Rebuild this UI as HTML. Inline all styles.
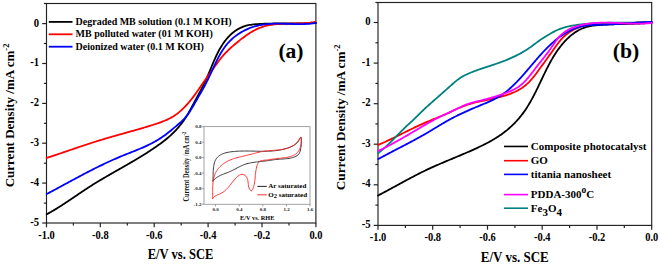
<!DOCTYPE html>
<html><head><meta charset="utf-8"><style>
html,body{margin:0;padding:0;background:#fff;}
body{width:660px;height:264px;overflow:hidden;font-family:"Liberation Serif",serif;}
svg{display:block;}
</style></head><body>
<svg width="660" height="264" viewBox="0 0 660 264">
<rect width="660" height="264" fill="#fff"/>
<rect x="46.5" y="3.5" width="269.4" height="219.5" fill="none" stroke="#222" stroke-width="1.15"/>
<line x1="46.5" y1="223.0" x2="46.5" y2="227.3" stroke="#222" stroke-width="1.2"/>
<line x1="73.4" y1="223.0" x2="73.4" y2="225.6" stroke="#222" stroke-width="1.2"/>
<line x1="100.3" y1="223.0" x2="100.3" y2="227.3" stroke="#222" stroke-width="1.2"/>
<line x1="127.3" y1="223.0" x2="127.3" y2="225.6" stroke="#222" stroke-width="1.2"/>
<line x1="154.2" y1="223.0" x2="154.2" y2="227.3" stroke="#222" stroke-width="1.2"/>
<line x1="181.2" y1="223.0" x2="181.2" y2="225.6" stroke="#222" stroke-width="1.2"/>
<line x1="208.1" y1="223.0" x2="208.1" y2="227.3" stroke="#222" stroke-width="1.2"/>
<line x1="235.1" y1="223.0" x2="235.1" y2="225.6" stroke="#222" stroke-width="1.2"/>
<line x1="262.0" y1="223.0" x2="262.0" y2="227.3" stroke="#222" stroke-width="1.2"/>
<line x1="289.0" y1="223.0" x2="289.0" y2="225.6" stroke="#222" stroke-width="1.2"/>
<line x1="315.9" y1="223.0" x2="315.9" y2="227.3" stroke="#222" stroke-width="1.2"/>
<line x1="43.9" y1="3.5" x2="46.5" y2="3.5" stroke="#222" stroke-width="1.2"/>
<line x1="42.2" y1="23.6" x2="46.5" y2="23.6" stroke="#222" stroke-width="1.2"/>
<line x1="43.9" y1="43.5" x2="46.5" y2="43.5" stroke="#222" stroke-width="1.2"/>
<line x1="42.2" y1="63.5" x2="46.5" y2="63.5" stroke="#222" stroke-width="1.2"/>
<line x1="43.9" y1="83.4" x2="46.5" y2="83.4" stroke="#222" stroke-width="1.2"/>
<line x1="42.2" y1="103.4" x2="46.5" y2="103.4" stroke="#222" stroke-width="1.2"/>
<line x1="43.9" y1="123.3" x2="46.5" y2="123.3" stroke="#222" stroke-width="1.2"/>
<line x1="42.2" y1="143.2" x2="46.5" y2="143.2" stroke="#222" stroke-width="1.2"/>
<line x1="43.9" y1="163.2" x2="46.5" y2="163.2" stroke="#222" stroke-width="1.2"/>
<line x1="42.2" y1="183.1" x2="46.5" y2="183.1" stroke="#222" stroke-width="1.2"/>
<line x1="43.9" y1="203.1" x2="46.5" y2="203.1" stroke="#222" stroke-width="1.2"/>
<line x1="42.2" y1="223.0" x2="46.5" y2="223.0" stroke="#222" stroke-width="1.2"/>
<text transform="translate(39.15,26.60) scale(0.970,1.060)" font-size="11.00" text-anchor="end" font-family="Liberation Serif" font-weight="bold">0</text>
<text transform="translate(39.15,66.48) scale(0.970,1.060)" font-size="11.00" text-anchor="end" font-family="Liberation Serif" font-weight="bold">-1</text>
<text transform="translate(39.15,106.36) scale(0.970,1.060)" font-size="11.00" text-anchor="end" font-family="Liberation Serif" font-weight="bold">-2</text>
<text transform="translate(39.15,146.24) scale(0.970,1.060)" font-size="11.00" text-anchor="end" font-family="Liberation Serif" font-weight="bold">-3</text>
<text transform="translate(39.15,186.12) scale(0.970,1.060)" font-size="11.00" text-anchor="end" font-family="Liberation Serif" font-weight="bold">-4</text>
<text transform="translate(39.15,226.00) scale(0.970,1.060)" font-size="11.00" text-anchor="end" font-family="Liberation Serif" font-weight="bold">-5</text>
<text transform="translate(46.45,238.70) scale(0.950,1.080)" font-size="11.00" text-anchor="middle" font-family="Liberation Serif" font-weight="bold">-1.0</text>
<text transform="translate(100.34,238.70) scale(0.950,1.080)" font-size="11.00" text-anchor="middle" font-family="Liberation Serif" font-weight="bold">-0.8</text>
<text transform="translate(154.23,238.70) scale(0.950,1.080)" font-size="11.00" text-anchor="middle" font-family="Liberation Serif" font-weight="bold">-0.6</text>
<text transform="translate(208.12,238.70) scale(0.950,1.080)" font-size="11.00" text-anchor="middle" font-family="Liberation Serif" font-weight="bold">-0.4</text>
<text transform="translate(262.01,238.70) scale(0.950,1.080)" font-size="11.00" text-anchor="middle" font-family="Liberation Serif" font-weight="bold">-0.2</text>
<text transform="translate(315.90,238.70) scale(0.950,1.080)" font-size="11.00" text-anchor="middle" font-family="Liberation Serif" font-weight="bold">0.0</text>
<rect x="378.0" y="2.5" width="273.7" height="222.9" fill="none" stroke="#222" stroke-width="1.15"/>
<line x1="378.0" y1="225.4" x2="378.0" y2="229.7" stroke="#222" stroke-width="1.2"/>
<line x1="405.4" y1="225.4" x2="405.4" y2="228.0" stroke="#222" stroke-width="1.2"/>
<line x1="432.7" y1="225.4" x2="432.7" y2="229.7" stroke="#222" stroke-width="1.2"/>
<line x1="460.1" y1="225.4" x2="460.1" y2="228.0" stroke="#222" stroke-width="1.2"/>
<line x1="487.5" y1="225.4" x2="487.5" y2="229.7" stroke="#222" stroke-width="1.2"/>
<line x1="514.9" y1="225.4" x2="514.9" y2="228.0" stroke="#222" stroke-width="1.2"/>
<line x1="542.2" y1="225.4" x2="542.2" y2="229.7" stroke="#222" stroke-width="1.2"/>
<line x1="569.6" y1="225.4" x2="569.6" y2="228.0" stroke="#222" stroke-width="1.2"/>
<line x1="597.0" y1="225.4" x2="597.0" y2="229.7" stroke="#222" stroke-width="1.2"/>
<line x1="624.3" y1="225.4" x2="624.3" y2="228.0" stroke="#222" stroke-width="1.2"/>
<line x1="651.7" y1="225.4" x2="651.7" y2="229.7" stroke="#222" stroke-width="1.2"/>
<line x1="375.4" y1="2.5" x2="378.0" y2="2.5" stroke="#222" stroke-width="1.2"/>
<line x1="373.7" y1="22.5" x2="378.0" y2="22.5" stroke="#222" stroke-width="1.2"/>
<line x1="375.4" y1="42.8" x2="378.0" y2="42.8" stroke="#222" stroke-width="1.2"/>
<line x1="373.7" y1="63.1" x2="378.0" y2="63.1" stroke="#222" stroke-width="1.2"/>
<line x1="375.4" y1="83.4" x2="378.0" y2="83.4" stroke="#222" stroke-width="1.2"/>
<line x1="373.7" y1="103.7" x2="378.0" y2="103.7" stroke="#222" stroke-width="1.2"/>
<line x1="375.4" y1="123.9" x2="378.0" y2="123.9" stroke="#222" stroke-width="1.2"/>
<line x1="373.7" y1="144.2" x2="378.0" y2="144.2" stroke="#222" stroke-width="1.2"/>
<line x1="375.4" y1="164.5" x2="378.0" y2="164.5" stroke="#222" stroke-width="1.2"/>
<line x1="373.7" y1="184.8" x2="378.0" y2="184.8" stroke="#222" stroke-width="1.2"/>
<line x1="375.4" y1="205.1" x2="378.0" y2="205.1" stroke="#222" stroke-width="1.2"/>
<line x1="373.7" y1="225.4" x2="378.0" y2="225.4" stroke="#222" stroke-width="1.2"/>
<text transform="translate(370.70,25.00) scale(0.970,1.060)" font-size="11.00" text-anchor="end" font-family="Liberation Serif" font-weight="bold">0</text>
<text transform="translate(370.70,65.58) scale(0.970,1.060)" font-size="11.00" text-anchor="end" font-family="Liberation Serif" font-weight="bold">-1</text>
<text transform="translate(370.70,106.16) scale(0.970,1.060)" font-size="11.00" text-anchor="end" font-family="Liberation Serif" font-weight="bold">-2</text>
<text transform="translate(370.70,146.74) scale(0.970,1.060)" font-size="11.00" text-anchor="end" font-family="Liberation Serif" font-weight="bold">-3</text>
<text transform="translate(370.70,187.32) scale(0.970,1.060)" font-size="11.00" text-anchor="end" font-family="Liberation Serif" font-weight="bold">-4</text>
<text transform="translate(370.70,227.90) scale(0.970,1.060)" font-size="11.00" text-anchor="end" font-family="Liberation Serif" font-weight="bold">-5</text>
<text transform="translate(378.00,240.95) scale(0.950,1.080)" font-size="11.00" text-anchor="middle" font-family="Liberation Serif" font-weight="bold">-1.0</text>
<text transform="translate(432.74,240.95) scale(0.950,1.080)" font-size="11.00" text-anchor="middle" font-family="Liberation Serif" font-weight="bold">-0.8</text>
<text transform="translate(487.48,240.95) scale(0.950,1.080)" font-size="11.00" text-anchor="middle" font-family="Liberation Serif" font-weight="bold">-0.6</text>
<text transform="translate(542.22,240.95) scale(0.950,1.080)" font-size="11.00" text-anchor="middle" font-family="Liberation Serif" font-weight="bold">-0.4</text>
<text transform="translate(596.96,240.95) scale(0.950,1.080)" font-size="11.00" text-anchor="middle" font-family="Liberation Serif" font-weight="bold">-0.2</text>
<text transform="translate(651.70,240.95) scale(0.950,1.080)" font-size="11.00" text-anchor="middle" font-family="Liberation Serif" font-weight="bold">0.0</text>
<rect x="204.0" y="126.6" width="106.0" height="77.7" fill="none" stroke="#999" stroke-width="0.9"/>
<line x1="202.0" y1="126.6" x2="204.0" y2="126.6" stroke="#888" stroke-width="0.8"/>
<text transform="translate(201.40,128.30)" font-size="5.00" text-anchor="end" fill="#222" font-family="Liberation Serif" font-weight="bold">0.8</text>
<line x1="202.0" y1="142.1" x2="204.0" y2="142.1" stroke="#888" stroke-width="0.8"/>
<text transform="translate(201.40,143.80)" font-size="5.00" text-anchor="end" fill="#222" font-family="Liberation Serif" font-weight="bold">0.4</text>
<line x1="202.0" y1="157.6" x2="204.0" y2="157.6" stroke="#888" stroke-width="0.8"/>
<text transform="translate(201.40,159.30)" font-size="5.00" text-anchor="end" fill="#222" font-family="Liberation Serif" font-weight="bold">0.0</text>
<line x1="202.0" y1="173.1" x2="204.0" y2="173.1" stroke="#888" stroke-width="0.8"/>
<text transform="translate(201.40,174.80)" font-size="5.00" text-anchor="end" fill="#222" font-family="Liberation Serif" font-weight="bold">-0.4</text>
<line x1="202.0" y1="188.6" x2="204.0" y2="188.6" stroke="#888" stroke-width="0.8"/>
<text transform="translate(201.40,190.30)" font-size="5.00" text-anchor="end" fill="#222" font-family="Liberation Serif" font-weight="bold">-0.8</text>
<line x1="202.0" y1="204.2" x2="204.0" y2="204.2" stroke="#888" stroke-width="0.8"/>
<text transform="translate(201.40,205.90)" font-size="5.00" text-anchor="end" fill="#222" font-family="Liberation Serif" font-weight="bold">-1.2</text>
<line x1="215.5" y1="204.3" x2="215.5" y2="206.3" stroke="#888" stroke-width="0.8"/>
<text transform="translate(215.50,210.70)" font-size="5.00" text-anchor="middle" fill="#222" font-family="Liberation Serif" font-weight="bold">0.0</text>
<line x1="239.3" y1="204.3" x2="239.3" y2="206.3" stroke="#888" stroke-width="0.8"/>
<text transform="translate(239.30,210.70)" font-size="5.00" text-anchor="middle" fill="#222" font-family="Liberation Serif" font-weight="bold">0.4</text>
<line x1="262.8" y1="204.3" x2="262.8" y2="206.3" stroke="#888" stroke-width="0.8"/>
<text transform="translate(262.80,210.70)" font-size="5.00" text-anchor="middle" fill="#222" font-family="Liberation Serif" font-weight="bold">0.8</text>
<line x1="286.5" y1="204.3" x2="286.5" y2="206.3" stroke="#888" stroke-width="0.8"/>
<text transform="translate(286.50,210.70)" font-size="5.00" text-anchor="middle" fill="#222" font-family="Liberation Serif" font-weight="bold">1.2</text>
<line x1="310.0" y1="204.3" x2="310.0" y2="206.3" stroke="#888" stroke-width="0.8"/>
<text transform="translate(310.00,210.70)" font-size="5.00" text-anchor="middle" fill="#222" font-family="Liberation Serif" font-weight="bold">1.6</text>
<path d="M212.94,181.03 L213.00,180.05 L213.03,178.99 L213.06,177.88 L213.08,176.72 L213.10,175.50 L213.12,174.26 L213.15,172.98 L213.20,171.68 L213.27,170.38 L213.37,169.07 L213.50,167.77 L213.66,166.48 L213.88,165.21 L214.14,163.98 L214.45,162.78 L214.83,161.64 L215.27,160.55 L215.79,159.52 L216.38,158.57 L217.05,157.70 L217.80,156.90 L218.62,156.18 L219.50,155.52 L220.44,154.92 L221.44,154.39 L222.48,153.91 L223.57,153.49 L224.70,153.11 L225.87,152.78 L227.06,152.49 L228.27,152.24 L229.51,152.02 L230.76,151.84 L232.02,151.68 L233.28,151.54 L234.54,151.43 L235.80,151.33 L237.05,151.24 L238.30,151.17 L239.55,151.12 L240.79,151.08 L242.03,151.04 L243.27,151.03 L244.50,151.02 L245.74,151.01 L246.96,151.02 L248.19,151.03 L249.41,151.05 L250.63,151.07 L251.84,151.10 L253.06,151.12 L254.27,151.15 L255.47,151.18 L256.68,151.21 L257.88,151.24 L259.08,151.26 L260.28,151.28 L261.48,151.29 L262.67,151.30 L263.86,151.30 L265.05,151.29 L266.24,151.27 L267.43,151.24 L268.61,151.20 L269.79,151.15 L270.98,151.08 L272.15,151.00 L273.33,150.90 L274.51,150.79 L275.68,150.66 L276.86,150.50 L278.03,150.33 L279.20,150.14 L280.37,149.93 L281.54,149.69 L282.71,149.43 L283.87,149.14 L285.04,148.82 L286.20,148.48 L287.37,148.11 L288.53,147.71 L289.69,147.28 L290.85,146.82 L292.00,146.31 L293.11,145.75 L294.20,145.13 L295.23,144.43 L296.22,143.66 L297.13,142.81 L297.97,141.85 L298.72,140.79 L299.37,139.64 L299.93,138.54 L300.39,137.68 L300.76,137.23 L301.04,137.36 L301.23,138.01 L301.35,139.05 L301.40,140.36 L301.39,141.81 L301.34,143.27 L301.24,144.70 L301.09,146.08 L300.92,147.41 L300.70,148.71 L300.45,149.96 L300.15,151.16 L299.77,152.29 L299.28,153.32 L298.66,154.25 L297.87,155.05 L296.95,155.74 L295.93,156.32 L294.84,156.81 L293.73,157.24 L292.59,157.60 L291.44,157.91 L290.26,158.16 L289.07,158.37 L287.87,158.54 L286.66,158.68 L285.44,158.80 L284.22,158.89 L282.99,158.98 L281.76,159.05 L280.53,159.12 L279.31,159.20 L278.09,159.30 L276.87,159.40 L275.67,159.53 L274.48,159.67 L273.28,159.83 L272.10,159.99 L270.91,160.17 L269.73,160.34 L268.55,160.52 L267.36,160.70 L266.18,160.87 L264.98,161.03 L263.79,161.19 L262.59,161.33 L261.38,161.47 L260.17,161.60 L258.96,161.73 L257.74,161.87 L256.53,162.01 L255.32,162.15 L254.11,162.31 L252.91,162.49 L251.71,162.69 L250.52,162.91 L249.34,163.15 L248.17,163.42 L247.01,163.73 L245.86,164.07 L244.73,164.45 L243.61,164.87 L242.50,165.33 L241.41,165.82 L240.32,166.33 L239.24,166.87 L238.16,167.42 L237.09,167.98 L236.01,168.55 L234.94,169.12 L233.86,169.68 L232.77,170.24 L231.68,170.78 L230.58,171.30 L229.46,171.79 L228.33,172.26 L227.20,172.71 L226.05,173.15 L224.91,173.58 L223.78,174.01 L222.65,174.45 L221.53,174.91 L220.44,175.40 L219.36,175.92 L218.32,176.49 L217.30,177.10 L216.32,177.77 L215.38,178.50 L214.49,179.31 L213.64,180.20 L212.85,181.17" fill="none" stroke="#222" stroke-width="0.90" stroke-linejoin="round" stroke-linecap="round"/>
<path d="M212.57,198.64 L212.61,197.51 L212.64,196.35 L212.66,195.18 L212.67,193.99 L212.67,192.78 L212.68,191.56 L212.68,190.33 L212.70,189.10 L212.72,187.86 L212.76,186.61 L212.81,185.37 L212.89,184.13 L213.00,182.90 L213.13,181.67 L213.30,180.45 L213.51,179.25 L213.76,178.06 L214.06,176.89 L214.40,175.74 L214.80,174.61 L215.26,173.51 L215.77,172.44 L216.35,171.39 L216.98,170.38 L217.67,169.40 L218.40,168.45 L219.18,167.54 L220.00,166.66 L220.87,165.82 L221.77,165.02 L222.70,164.26 L223.66,163.55 L224.66,162.87 L225.67,162.24 L226.71,161.65 L227.77,161.09 L228.86,160.58 L229.96,160.09 L231.07,159.64 L232.21,159.21 L233.35,158.81 L234.51,158.43 L235.68,158.07 L236.86,157.73 L238.05,157.41 L239.24,157.10 L240.43,156.81 L241.63,156.52 L242.83,156.24 L244.03,155.96 L245.23,155.69 L246.42,155.41 L247.60,155.13 L248.78,154.85 L249.96,154.56 L251.12,154.26 L252.27,153.95 L253.42,153.64 L254.56,153.33 L255.71,153.03 L256.85,152.73 L258.00,152.44 L259.14,152.16 L260.30,151.90 L261.46,151.66 L262.63,151.43 L263.81,151.24 L265.01,151.06 L266.21,150.92 L267.43,150.79 L268.66,150.68 L269.89,150.58 L271.12,150.49 L272.36,150.41 L273.60,150.32 L274.84,150.24 L276.08,150.15 L277.31,150.04 L278.54,149.93 L279.76,149.80 L280.98,149.64 L282.18,149.47 L283.37,149.26 L284.55,149.02 L285.71,148.75 L286.86,148.43 L287.98,148.07 L289.09,147.67 L290.17,147.21 L291.23,146.70 L292.27,146.13 L293.28,145.50 L294.26,144.80 L295.20,144.04 L296.12,143.20 L297.00,142.28 L297.85,141.28 L298.66,140.20 L299.42,139.08 L300.10,138.07 L300.65,137.36 L301.03,137.14 L301.23,137.48 L301.32,138.25 L301.36,139.30 L301.34,140.55 L301.26,141.94 L301.11,143.40 L300.89,144.87 L300.59,146.27 L300.21,147.57 L299.75,148.78 L299.21,149.90 L298.60,150.93 L297.93,151.87 L297.18,152.73 L296.37,153.51 L295.50,154.21 L294.56,154.83 L293.58,155.37 L292.54,155.85 L291.45,156.26 L290.32,156.62 L289.16,156.92 L287.96,157.19 L286.75,157.41 L285.51,157.60 L284.26,157.76 L283.00,157.90 L281.75,158.03 L280.49,158.16 L279.25,158.28 L278.01,158.41 L276.80,158.54 L275.61,158.70 L274.44,158.85 L273.27,159.02 L272.11,159.19 L270.95,159.37 L269.78,159.54 L268.61,159.71 L267.42,159.87 L266.22,160.03 L264.99,160.17 L263.74,160.31 L262.48,160.45 L261.26,160.68 L260.16,161.06 L259.22,161.66 L258.48,162.50 L257.88,163.51 L257.40,164.64 L256.99,165.81 L256.65,167.00 L256.36,168.20 L256.11,169.41 L255.91,170.64 L255.73,171.87 L255.59,173.10 L255.46,174.34 L255.34,175.59 L255.23,176.83 L255.11,178.06 L254.99,179.29 L254.85,180.52 L254.70,181.73 L254.51,182.94 L254.29,184.13 L254.03,185.30 L253.72,186.46 L253.36,187.60 L252.93,188.71 L252.44,189.78 L251.86,190.59 L251.18,190.80 L250.43,190.32 L249.72,189.39 L249.18,188.29 L248.79,187.11 L248.53,185.87 L248.34,184.59 L248.19,183.30 L248.05,182.00 L247.86,180.73 L247.59,179.49 L247.20,178.32 L246.65,177.22 L245.90,176.22 L244.98,175.38 L243.97,174.76 L242.92,174.42 L241.88,174.37 L240.85,174.57 L239.82,174.98 L238.81,175.58 L237.82,176.31 L236.86,177.16 L235.93,178.08 L235.03,179.04 L234.18,180.02 L233.36,180.99 L232.57,181.96 L231.80,182.93 L231.05,183.89 L230.31,184.84 L229.57,185.78 L228.82,186.69 L228.07,187.58 L227.29,188.45 L226.50,189.29 L225.67,190.09 L224.81,190.86 L223.90,191.58 L222.94,192.26 L221.93,192.90 L220.86,193.48 L219.72,194.01 L218.54,194.52 L217.36,195.02 L216.20,195.57 L215.12,196.18 L214.14,196.88 L213.30,197.72 L212.63,198.72" fill="none" stroke="#ff2020" stroke-width="0.90" stroke-linejoin="round" stroke-linecap="round"/>
<line x1="257.3" y1="186.4" x2="266.8" y2="186.4" stroke="#222" stroke-width="1"/>
<line x1="257.3" y1="194.8" x2="266.8" y2="194.8" stroke="#ff3030" stroke-width="1"/>
<text transform="translate(268.20,188.30)" font-size="7.00" font-family="Liberation Serif" font-weight="bold">Ar saturated</text>
<text transform="translate(268.20,196.70)" font-size="7.00" font-family="Liberation Serif" font-weight="bold">O<tspan font-size="6.5" dy="1.2">2</tspan><tspan dy="-1.2"> saturated</tspan></text>
<text transform="translate(257.20,220.20)" font-size="6.30" text-anchor="middle" font-family="Liberation Serif" font-weight="bold">E/V vs. RHE</text>
<text transform="translate(189.00,201.50) rotate(-90) scale(1.000,1.180)" font-size="6.30" fill="#111" font-family="Liberation Serif" font-weight="bold">Current Density /mA cm<tspan font-size="4.6" dy="-2.8">-2</tspan></text>
<path d="M46.71,214.27 L47.77,213.69 L48.83,213.11 L49.89,212.53 L50.94,211.93 L51.98,211.33 L53.03,210.72 L54.07,210.11 L55.10,209.49 L56.13,208.86 L57.16,208.23 L58.18,207.60 L59.21,206.96 L60.22,206.31 L61.24,205.66 L62.25,205.01 L63.27,204.36 L64.28,203.70 L65.28,203.04 L66.29,202.37 L67.29,201.70 L68.30,201.03 L69.30,200.36 L70.30,199.69 L71.30,199.01 L72.30,198.34 L73.29,197.66 L74.29,196.98 L75.29,196.30 L76.29,195.63 L77.28,194.95 L78.28,194.27 L79.28,193.60 L80.28,192.92 L81.28,192.25 L82.28,191.58 L83.28,190.91 L84.29,190.24 L85.29,189.57 L86.30,188.91 L87.31,188.25 L88.32,187.59 L89.33,186.94 L90.34,186.29 L91.36,185.65 L92.38,185.00 L93.40,184.36 L94.43,183.73 L95.45,183.10 L96.48,182.47 L97.51,181.84 L98.54,181.22 L99.58,180.60 L100.61,179.98 L101.65,179.36 L102.68,178.74 L103.72,178.13 L104.76,177.52 L105.80,176.91 L106.85,176.31 L107.89,175.70 L108.93,175.10 L109.98,174.49 L111.02,173.89 L112.07,173.29 L113.12,172.69 L114.16,172.09 L115.21,171.49 L116.26,170.89 L117.31,170.30 L118.36,169.70 L119.40,169.10 L120.45,168.50 L121.50,167.91 L122.55,167.31 L123.60,166.71 L124.65,166.11 L125.69,165.51 L126.74,164.91 L127.79,164.31 L128.83,163.70 L129.88,163.10 L130.92,162.49 L131.96,161.89 L133.01,161.28 L134.05,160.67 L135.09,160.05 L136.13,159.44 L137.16,158.82 L138.20,158.20 L139.23,157.58 L140.26,156.95 L141.29,156.33 L142.32,155.70 L143.35,155.06 L144.37,154.42 L145.39,153.78 L146.41,153.14 L147.43,152.49 L148.44,151.84 L149.45,151.18 L150.46,150.52 L151.47,149.86 L152.47,149.19 L153.47,148.51 L154.46,147.84 L155.45,147.15 L156.44,146.46 L157.43,145.77 L158.41,145.07 L159.38,144.36 L160.36,143.65 L161.32,142.93 L162.29,142.21 L163.24,141.48 L164.20,140.74 L165.14,140.00 L166.08,139.24 L167.01,138.48 L167.93,137.71 L168.85,136.93 L169.75,136.13 L170.65,135.33 L171.53,134.52 L172.41,133.69 L173.27,132.86 L174.12,132.01 L174.96,131.14 L175.79,130.27 L176.60,129.39 L177.41,128.49 L178.20,127.58 L178.98,126.66 L179.74,125.73 L180.50,124.80 L181.24,123.85 L181.97,122.89 L182.69,121.92 L183.39,120.94 L184.09,119.96 L184.76,118.96 L185.43,117.96 L186.09,116.95 L186.73,115.94 L187.36,114.91 L187.97,113.88 L188.58,112.85 L189.18,111.80 L189.77,110.76 L190.35,109.71 L190.93,108.65 L191.50,107.60 L192.07,106.54 L192.64,105.47 L193.20,104.41 L193.77,103.35 L194.34,102.28 L194.90,101.22 L195.47,100.15 L196.04,99.09 L196.62,98.02 L197.19,96.96 L197.76,95.90 L198.33,94.83 L198.90,93.77 L199.47,92.70 L200.04,91.63 L200.60,90.56 L201.16,89.49 L201.72,88.42 L202.27,87.35 L202.82,86.27 L203.36,85.20 L203.90,84.12 L204.43,83.03 L204.95,81.95 L205.47,80.86 L205.98,79.77 L206.47,78.68 L206.96,77.58 L207.45,76.48 L207.92,75.38 L208.40,74.27 L208.86,73.17 L209.33,72.06 L209.79,70.95 L210.24,69.84 L210.70,68.73 L211.16,67.62 L211.61,66.51 L212.07,65.40 L212.53,64.29 L213.00,63.19 L213.47,62.08 L213.94,60.98 L214.42,59.88 L214.91,58.78 L215.40,57.68 L215.90,56.59 L216.42,55.50 L216.94,54.42 L217.47,53.34 L218.02,52.26 L218.58,51.19 L219.15,50.12 L219.74,49.06 L220.35,48.01 L220.97,46.96 L221.61,45.92 L222.26,44.89 L222.93,43.87 L223.62,42.86 L224.33,41.87 L225.06,40.89 L225.81,39.93 L226.58,38.98 L227.36,38.05 L228.17,37.15 L229.00,36.26 L229.85,35.40 L230.72,34.57 L231.61,33.76 L232.52,32.97 L233.45,32.22 L234.41,31.49 L235.38,30.80 L236.38,30.13 L237.39,29.50 L238.42,28.90 L239.47,28.34 L240.53,27.81 L241.61,27.31 L242.71,26.86 L243.83,26.44 L244.96,26.06 L246.10,25.73 L247.27,25.43 L248.44,25.18 L249.62,24.95 L250.82,24.77 L252.02,24.60 L253.23,24.47 L254.44,24.35 L255.66,24.25 L256.88,24.16 L258.09,24.07 L259.31,24.00 L260.52,23.93 L261.74,23.87 L262.95,23.81 L264.16,23.76 L265.37,23.71 L266.58,23.67 L267.79,23.64 L269.00,23.61 L270.20,23.58 L271.41,23.55 L272.62,23.54 L273.82,23.52 L275.03,23.51 L276.23,23.50 L277.43,23.49 L278.64,23.48 L279.84,23.48 L281.04,23.48 L282.24,23.48 L283.45,23.48 L284.65,23.48 L285.85,23.48 L287.05,23.49 L288.25,23.49 L289.45,23.49 L290.66,23.49 L291.86,23.50 L293.06,23.50 L294.26,23.50 L295.47,23.49 L296.67,23.49 L297.87,23.48 L299.08,23.47 L300.28,23.46 L301.48,23.45 L302.69,23.43 L303.90,23.41 L305.10,23.38 L306.31,23.36 L307.52,23.32 L308.73,23.28 L309.94,23.24 L311.15,23.19 L312.36,23.14 L313.57,23.08 L314.79,23.01 L316.00,22.94" fill="none" stroke="#000" stroke-width="1.80" stroke-linejoin="round" stroke-linecap="round"/>
<path d="M46.68,157.97 L47.82,157.59 L48.96,157.21 L50.11,156.83 L51.25,156.45 L52.39,156.07 L53.53,155.69 L54.67,155.30 L55.81,154.92 L56.95,154.53 L58.09,154.14 L59.24,153.75 L60.38,153.37 L61.52,152.98 L62.66,152.59 L63.80,152.20 L64.94,151.81 L66.08,151.42 L67.23,151.03 L68.37,150.64 L69.51,150.25 L70.65,149.87 L71.80,149.48 L72.94,149.09 L74.08,148.70 L75.23,148.31 L76.37,147.93 L77.51,147.54 L78.66,147.16 L79.80,146.77 L80.95,146.39 L82.09,146.01 L83.24,145.63 L84.38,145.25 L85.53,144.87 L86.67,144.49 L87.82,144.11 L88.97,143.74 L90.12,143.37 L91.26,143.00 L92.41,142.63 L93.56,142.26 L94.71,141.90 L95.86,141.53 L97.01,141.17 L98.16,140.81 L99.31,140.45 L100.47,140.10 L101.62,139.75 L102.77,139.40 L103.93,139.05 L105.08,138.71 L106.24,138.36 L107.39,138.03 L108.55,137.69 L109.70,137.35 L110.86,137.02 L112.02,136.69 L113.18,136.36 L114.33,136.03 L115.49,135.70 L116.65,135.38 L117.81,135.05 L118.97,134.73 L120.13,134.40 L121.29,134.08 L122.45,133.76 L123.61,133.43 L124.77,133.11 L125.93,132.79 L127.09,132.47 L128.25,132.14 L129.41,131.82 L130.57,131.49 L131.73,131.17 L132.89,130.84 L134.05,130.52 L135.21,130.19 L136.37,129.86 L137.53,129.52 L138.69,129.19 L139.85,128.86 L141.01,128.52 L142.16,128.18 L143.32,127.84 L144.48,127.49 L145.63,127.14 L146.79,126.79 L147.94,126.44 L149.10,126.08 L150.25,125.73 L151.41,125.36 L152.56,125.00 L153.71,124.63 L154.86,124.25 L156.01,123.87 L157.16,123.49 L158.31,123.10 L159.45,122.70 L160.59,122.29 L161.73,121.88 L162.85,121.45 L163.97,121.00 L165.09,120.54 L166.19,120.07 L167.29,119.57 L168.37,119.06 L169.44,118.53 L170.51,117.98 L171.55,117.40 L172.59,116.80 L173.60,116.17 L174.61,115.52 L175.60,114.84 L176.57,114.14 L177.53,113.41 L178.48,112.67 L179.41,111.91 L180.32,111.12 L181.22,110.32 L182.11,109.51 L182.99,108.67 L183.85,107.83 L184.70,106.97 L185.53,106.10 L186.35,105.22 L187.16,104.32 L187.96,103.42 L188.75,102.51 L189.52,101.59 L190.29,100.66 L191.04,99.72 L191.79,98.78 L192.53,97.83 L193.26,96.87 L193.99,95.90 L194.70,94.93 L195.41,93.96 L196.12,92.98 L196.82,92.00 L197.52,91.01 L198.21,90.02 L198.91,89.03 L199.59,88.04 L200.28,87.05 L200.97,86.05 L201.65,85.05 L202.34,84.06 L203.02,83.06 L203.71,82.07 L204.40,81.08 L205.09,80.08 L205.79,79.10 L206.48,78.11 L207.18,77.13 L207.89,76.14 L208.59,75.16 L209.30,74.18 L210.00,73.21 L210.71,72.23 L211.41,71.25 L212.12,70.27 L212.82,69.29 L213.52,68.31 L214.22,67.32 L214.92,66.34 L215.62,65.35 L216.31,64.37 L217.02,63.39 L217.72,62.41 L218.43,61.44 L219.15,60.48 L219.87,59.53 L220.61,58.58 L221.35,57.65 L222.11,56.73 L222.88,55.83 L223.67,54.93 L224.46,54.05 L225.27,53.19 L226.09,52.33 L226.93,51.49 L227.77,50.65 L228.63,49.83 L229.49,49.01 L230.37,48.20 L231.25,47.40 L232.15,46.61 L233.05,45.82 L233.96,45.03 L234.88,44.26 L235.81,43.48 L236.74,42.71 L237.68,41.94 L238.62,41.18 L239.58,40.41 L240.54,39.65 L241.50,38.90 L242.47,38.16 L243.45,37.42 L244.43,36.69 L245.43,35.97 L246.43,35.27 L247.43,34.57 L248.45,33.89 L249.47,33.23 L250.50,32.59 L251.53,31.96 L252.58,31.35 L253.63,30.76 L254.69,30.19 L255.76,29.65 L256.84,29.12 L257.92,28.63 L259.02,28.16 L260.12,27.72 L261.23,27.30 L262.36,26.92 L263.48,26.56 L264.62,26.24 L265.77,25.94 L266.92,25.66 L268.08,25.41 L269.25,25.18 L270.42,24.97 L271.60,24.78 L272.79,24.61 L273.98,24.46 L275.17,24.33 L276.37,24.22 L277.58,24.11 L278.79,24.02 L280.00,23.95 L281.21,23.88 L282.43,23.83 L283.65,23.78 L284.87,23.74 L286.09,23.71 L287.32,23.68 L288.54,23.66 L289.77,23.64 L291.00,23.62 L292.22,23.61 L293.45,23.59 L294.67,23.57 L295.90,23.55 L297.12,23.52 L298.34,23.49 L299.55,23.46 L300.77,23.41 L301.98,23.36 L303.19,23.29 L304.39,23.22 L305.59,23.13 L306.79,23.04 L307.98,22.92 L309.16,22.79 L310.34,22.65 L311.52,22.48 L312.68,22.30 L313.84,22.10 L315.00,21.87" fill="none" stroke="#ff0000" stroke-width="1.80" stroke-linejoin="round" stroke-linecap="round"/>
<path d="M46.69,194.04 L47.76,193.47 L48.82,192.91 L49.89,192.34 L50.95,191.77 L52.02,191.20 L53.08,190.63 L54.15,190.06 L55.21,189.49 L56.27,188.92 L57.33,188.35 L58.39,187.77 L59.46,187.20 L60.52,186.62 L61.58,186.05 L62.64,185.48 L63.70,184.90 L64.76,184.33 L65.82,183.75 L66.88,183.18 L67.94,182.60 L69.00,182.03 L70.06,181.46 L71.13,180.88 L72.19,180.31 L73.25,179.74 L74.31,179.17 L75.37,178.60 L76.43,178.03 L77.50,177.46 L78.56,176.89 L79.62,176.33 L80.69,175.76 L81.75,175.20 L82.82,174.63 L83.89,174.07 L84.95,173.51 L86.02,172.96 L87.09,172.40 L88.16,171.85 L89.23,171.29 L90.30,170.74 L91.37,170.19 L92.45,169.65 L93.52,169.10 L94.60,168.56 L95.67,168.02 L96.75,167.48 L97.83,166.95 L98.91,166.42 L99.99,165.89 L101.08,165.36 L102.16,164.84 L103.25,164.32 L104.34,163.80 L105.43,163.28 L106.52,162.77 L107.61,162.26 L108.70,161.76 L109.80,161.26 L110.90,160.76 L112.00,160.26 L113.10,159.77 L114.20,159.28 L115.31,158.80 L116.41,158.32 L117.52,157.85 L118.63,157.37 L119.75,156.91 L120.86,156.44 L121.98,155.98 L123.10,155.53 L124.22,155.07 L125.34,154.62 L126.47,154.18 L127.59,153.73 L128.71,153.28 L129.84,152.84 L130.96,152.39 L132.09,151.95 L133.21,151.50 L134.33,151.05 L135.45,150.60 L136.57,150.14 L137.69,149.68 L138.80,149.22 L139.92,148.76 L141.03,148.29 L142.13,147.81 L143.24,147.33 L144.34,146.84 L145.43,146.34 L146.53,145.84 L147.61,145.33 L148.70,144.81 L149.78,144.28 L150.85,143.74 L151.92,143.20 L152.98,142.64 L154.03,142.07 L155.08,141.49 L156.13,140.89 L157.16,140.28 L158.19,139.66 L159.21,139.03 L160.22,138.38 L161.23,137.72 L162.23,137.04 L163.22,136.35 L164.20,135.65 L165.18,134.94 L166.15,134.21 L167.11,133.48 L168.07,132.74 L169.02,131.99 L169.97,131.23 L170.92,130.47 L171.86,129.70 L172.79,128.93 L173.72,128.15 L174.65,127.38 L175.58,126.60 L176.51,125.82 L177.43,125.04 L178.34,124.26 L179.25,123.47 L180.15,122.68 L181.04,121.88 L181.91,121.06 L182.77,120.23 L183.61,119.38 L184.43,118.52 L185.22,117.63 L185.99,116.72 L186.74,115.80 L187.46,114.85 L188.17,113.89 L188.86,112.91 L189.53,111.91 L190.19,110.91 L190.84,109.89 L191.47,108.87 L192.10,107.84 L192.72,106.80 L193.33,105.75 L193.93,104.71 L194.53,103.66 L195.13,102.61 L195.73,101.56 L196.33,100.52 L196.93,99.48 L197.53,98.44 L198.13,97.40 L198.73,96.36 L199.33,95.33 L199.93,94.29 L200.52,93.25 L201.11,92.22 L201.70,91.18 L202.29,90.14 L202.87,89.09 L203.45,88.05 L204.03,87.00 L204.60,85.95 L205.17,84.89 L205.73,83.83 L206.28,82.76 L206.83,81.69 L207.37,80.61 L207.91,79.52 L208.44,78.43 L208.96,77.34 L209.48,76.24 L210.00,75.13 L210.51,74.02 L211.02,72.91 L211.53,71.80 L212.03,70.69 L212.54,69.57 L213.05,68.46 L213.56,67.35 L214.08,66.24 L214.59,65.13 L215.11,64.02 L215.64,62.92 L216.17,61.82 L216.71,60.72 L217.25,59.63 L217.80,58.55 L218.36,57.48 L218.94,56.41 L219.52,55.35 L220.11,54.30 L220.71,53.26 L221.33,52.23 L221.96,51.21 L222.60,50.20 L223.26,49.20 L223.94,48.22 L224.63,47.25 L225.34,46.29 L226.07,45.35 L226.81,44.43 L227.58,43.52 L228.37,42.63 L229.17,41.75 L230.00,40.89 L230.85,40.06 L231.72,39.24 L232.61,38.44 L233.52,37.66 L234.45,36.89 L235.40,36.15 L236.36,35.43 L237.34,34.73 L238.33,34.04 L239.34,33.38 L240.37,32.74 L241.40,32.12 L242.45,31.52 L243.52,30.95 L244.59,30.39 L245.68,29.86 L246.78,29.34 L247.89,28.86 L249.00,28.39 L250.13,27.94 L251.26,27.52 L252.41,27.13 L253.55,26.75 L254.71,26.40 L255.87,26.08 L257.03,25.78 L258.20,25.50 L259.38,25.24 L260.55,25.01 L261.73,24.80 L262.92,24.62 L264.11,24.45 L265.30,24.30 L266.49,24.17 L267.69,24.06 L268.89,23.96 L270.09,23.88 L271.29,23.81 L272.50,23.76 L273.71,23.72 L274.92,23.69 L276.13,23.67 L277.34,23.66 L278.56,23.66 L279.78,23.66 L280.99,23.68 L282.21,23.70 L283.43,23.72 L284.65,23.75 L285.87,23.79 L287.09,23.82 L288.31,23.86 L289.53,23.90 L290.75,23.93 L291.97,23.97 L293.18,24.00 L294.40,24.03 L295.62,24.05 L296.83,24.07 L298.05,24.09 L299.26,24.09 L300.47,24.09 L301.68,24.08 L302.89,24.06 L304.09,24.03 L305.30,23.99 L306.50,23.93 L307.69,23.86 L308.89,23.78 L310.08,23.68 L311.27,23.56 L312.46,23.43 L313.64,23.28 L314.82,23.11 L315.99,22.92" fill="none" stroke="#0000ff" stroke-width="1.80" stroke-linejoin="round" stroke-linecap="round"/>
<line x1="48.8" y1="21.9" x2="72.5" y2="21.9" stroke="#000" stroke-width="1.8"/>
<line x1="48.8" y1="34.3" x2="72.5" y2="34.3" stroke="#ff0000" stroke-width="1.8"/>
<line x1="48.8" y1="46.7" x2="72.5" y2="46.7" stroke="#0000ff" stroke-width="1.8"/>
<text transform="translate(75.60,25.20) scale(1.000,1.040)" font-size="10.00" font-family="Liberation Serif" font-weight="bold">Degraded MB solution (0.1 M KOH)</text>
<text transform="translate(75.60,37.40) scale(1.000,1.040)" font-size="10.00" font-family="Liberation Serif" font-weight="bold">MB polluted water (01 M KOH)</text>
<text transform="translate(75.60,49.70) scale(1.000,1.040)" font-size="10.00" font-family="Liberation Serif" font-weight="bold">Deionized water (0.1 M KOH)</text>
<text transform="translate(278.40,58.10) scale(0.980,1.000)" font-size="22.00" font-family="Liberation Serif" font-weight="bold">(a)</text>
<text transform="translate(180.60,259.30) scale(0.967,1.050)" font-size="13.00" text-anchor="middle" font-family="Liberation Serif" font-weight="bold">E/V vs. SCE</text>
<text transform="translate(14.00,187.30) rotate(-90)" font-size="13.00" font-family="Liberation Serif" font-weight="bold">Current Density /mA cm<tspan font-size="8.5" dy="-5.3">-2</tspan></text>
<path d="M378.04,195.52 L379.10,194.97 L380.16,194.41 L381.23,193.86 L382.29,193.30 L383.35,192.73 L384.41,192.17 L385.47,191.60 L386.53,191.03 L387.59,190.46 L388.65,189.88 L389.71,189.31 L390.77,188.73 L391.82,188.16 L392.88,187.58 L393.94,187.00 L395.00,186.42 L396.06,185.85 L397.12,185.27 L398.18,184.69 L399.24,184.11 L400.30,183.53 L401.36,182.95 L402.42,182.37 L403.48,181.80 L404.54,181.22 L405.60,180.65 L406.67,180.08 L407.73,179.50 L408.80,178.93 L409.86,178.37 L410.93,177.80 L412.00,177.24 L413.07,176.67 L414.14,176.11 L415.21,175.56 L416.28,175.00 L417.36,174.45 L418.43,173.91 L419.51,173.36 L420.59,172.82 L421.66,172.28 L422.75,171.75 L423.83,171.22 L424.91,170.70 L426.00,170.18 L427.09,169.66 L428.18,169.15 L429.27,168.64 L430.36,168.14 L431.46,167.64 L432.55,167.14 L433.65,166.65 L434.75,166.16 L435.85,165.67 L436.95,165.19 L438.05,164.70 L439.16,164.23 L440.26,163.75 L441.36,163.27 L442.47,162.80 L443.58,162.33 L444.69,161.86 L445.79,161.39 L446.90,160.93 L448.01,160.46 L449.12,160.00 L450.23,159.53 L451.34,159.07 L452.45,158.60 L453.57,158.14 L454.68,157.68 L455.79,157.21 L456.90,156.75 L458.01,156.28 L459.12,155.82 L460.23,155.35 L461.34,154.88 L462.45,154.41 L463.56,153.94 L464.67,153.47 L465.78,152.99 L466.89,152.51 L468.00,152.03 L469.11,151.55 L470.21,151.07 L471.32,150.58 L472.42,150.09 L473.53,149.59 L474.63,149.10 L475.73,148.59 L476.83,148.09 L477.92,147.58 L479.01,147.06 L480.11,146.54 L481.19,146.02 L482.28,145.49 L483.36,144.95 L484.44,144.41 L485.51,143.86 L486.58,143.30 L487.65,142.74 L488.71,142.17 L489.76,141.59 L490.81,141.00 L491.86,140.41 L492.90,139.81 L493.93,139.20 L494.96,138.57 L495.98,137.95 L497.00,137.31 L498.01,136.66 L499.01,136.00 L500.00,135.33 L500.99,134.65 L501.96,133.96 L502.93,133.26 L503.90,132.54 L504.85,131.82 L505.79,131.08 L506.73,130.33 L507.65,129.57 L508.57,128.79 L509.48,128.00 L510.37,127.20 L511.26,126.39 L512.14,125.56 L513.00,124.72 L513.86,123.88 L514.70,123.01 L515.54,122.14 L516.36,121.26 L517.17,120.37 L517.98,119.46 L518.77,118.55 L519.54,117.63 L520.31,116.69 L521.07,115.75 L521.81,114.80 L522.54,113.84 L523.26,112.87 L523.97,111.89 L524.66,110.91 L525.34,109.92 L526.01,108.92 L526.67,107.91 L527.32,106.89 L527.96,105.87 L528.59,104.85 L529.21,103.81 L529.83,102.77 L530.43,101.73 L531.02,100.68 L531.61,99.62 L532.19,98.56 L532.76,97.50 L533.33,96.43 L533.89,95.36 L534.45,94.28 L534.99,93.20 L535.54,92.12 L536.08,91.03 L536.62,89.95 L537.15,88.86 L537.68,87.77 L538.21,86.67 L538.73,85.58 L539.25,84.48 L539.78,83.39 L540.30,82.29 L540.81,81.19 L541.33,80.10 L541.85,79.00 L542.37,77.90 L542.89,76.81 L543.42,75.71 L543.94,74.62 L544.47,73.53 L545.00,72.44 L545.53,71.35 L546.06,70.27 L546.60,69.19 L547.14,68.11 L547.69,67.04 L548.25,65.97 L548.80,64.90 L549.37,63.84 L549.94,62.78 L550.52,61.72 L551.10,60.68 L551.69,59.63 L552.29,58.60 L552.90,57.56 L553.52,56.54 L554.15,55.52 L554.78,54.51 L555.43,53.50 L556.08,52.51 L556.75,51.52 L557.43,50.53 L558.12,49.56 L558.82,48.60 L559.54,47.64 L560.26,46.69 L561.01,45.75 L561.76,44.82 L562.53,43.90 L563.31,43.00 L564.11,42.10 L564.92,41.21 L565.75,40.33 L566.60,39.47 L567.46,38.63 L568.33,37.80 L569.22,36.98 L570.13,36.19 L571.05,35.41 L571.98,34.66 L572.93,33.93 L573.90,33.22 L574.88,32.53 L575.88,31.87 L576.89,31.24 L577.92,30.63 L578.97,30.06 L580.03,29.51 L581.11,29.00 L582.20,28.52 L583.31,28.07 L584.43,27.66 L585.57,27.29 L586.72,26.95 L587.89,26.64 L589.08,26.37 L590.27,26.13 L591.47,25.91 L592.68,25.72 L593.90,25.55 L595.12,25.40 L596.34,25.26 L597.57,25.14 L598.80,25.03 L600.02,24.94 L601.25,24.85 L602.47,24.76 L603.69,24.68 L604.91,24.61 L606.12,24.55 L607.33,24.48 L608.54,24.43 L609.75,24.38 L610.96,24.33 L612.17,24.29 L613.37,24.25 L614.57,24.21 L615.78,24.17 L616.98,24.14 L618.18,24.11 L619.38,24.08 L620.57,24.06 L621.77,24.03 L622.97,24.01 L624.16,23.98 L625.36,23.95 L626.55,23.93 L627.75,23.90 L628.95,23.87 L630.14,23.84 L631.34,23.81 L632.53,23.78 L633.73,23.74 L634.92,23.70 L636.12,23.66 L637.32,23.61 L638.52,23.56 L639.72,23.51 L640.92,23.45 L642.12,23.38 L643.32,23.31 L644.53,23.24 L645.73,23.15 L646.94,23.06 L648.15,22.97 L649.36,22.86 L650.57,22.75 L651.79,22.63" fill="none" stroke="#000" stroke-width="1.80" stroke-linejoin="round" stroke-linecap="round"/>
<path d="M378.32,144.89 L379.43,144.41 L380.54,143.93 L381.65,143.44 L382.75,142.95 L383.85,142.46 L384.95,141.95 L386.05,141.45 L387.14,140.94 L388.24,140.42 L389.33,139.91 L390.42,139.39 L391.51,138.87 L392.59,138.34 L393.68,137.81 L394.76,137.28 L395.85,136.75 L396.93,136.22 L398.01,135.68 L399.10,135.15 L400.18,134.61 L401.26,134.07 L402.34,133.54 L403.42,133.00 L404.50,132.46 L405.58,131.92 L406.66,131.39 L407.75,130.85 L408.83,130.32 L409.91,129.79 L411.00,129.26 L412.08,128.73 L413.17,128.20 L414.25,127.68 L415.34,127.16 L416.43,126.64 L417.53,126.13 L418.62,125.62 L419.72,125.11 L420.81,124.61 L421.91,124.11 L423.02,123.62 L424.12,123.13 L425.23,122.65 L426.34,122.17 L427.45,121.70 L428.57,121.23 L429.69,120.77 L430.81,120.31 L431.93,119.85 L433.05,119.40 L434.17,118.95 L435.30,118.50 L436.42,118.05 L437.55,117.60 L438.67,117.15 L439.79,116.69 L440.91,116.23 L442.02,115.76 L443.14,115.29 L444.25,114.81 L445.35,114.33 L446.45,113.84 L447.55,113.34 L448.65,112.83 L449.74,112.32 L450.83,111.81 L451.93,111.29 L453.02,110.78 L454.11,110.27 L455.20,109.76 L456.29,109.25 L457.38,108.75 L458.48,108.26 L459.58,107.78 L460.68,107.31 L461.79,106.84 L462.90,106.39 L464.02,105.96 L465.15,105.54 L466.28,105.14 L467.41,104.75 L468.56,104.38 L469.71,104.02 L470.86,103.68 L472.02,103.35 L473.19,103.03 L474.36,102.72 L475.53,102.43 L476.71,102.14 L477.89,101.86 L479.07,101.58 L480.25,101.32 L481.44,101.05 L482.63,100.80 L483.82,100.54 L485.01,100.29 L486.20,100.04 L487.39,99.79 L488.58,99.54 L489.77,99.30 L490.96,99.04 L492.15,98.79 L493.34,98.53 L494.53,98.27 L495.71,98.00 L496.89,97.73 L498.07,97.45 L499.24,97.16 L500.41,96.86 L501.58,96.55 L502.74,96.23 L503.90,95.90 L505.05,95.56 L506.19,95.20 L507.33,94.83 L508.47,94.44 L509.60,94.04 L510.71,93.62 L511.83,93.18 L512.93,92.72 L514.03,92.24 L515.12,91.74 L516.19,91.22 L517.26,90.68 L518.32,90.12 L519.36,89.53 L520.38,88.92 L521.39,88.29 L522.39,87.63 L523.36,86.94 L524.32,86.23 L525.26,85.49 L526.17,84.72 L527.07,83.93 L527.94,83.11 L528.80,82.27 L529.64,81.41 L530.46,80.53 L531.27,79.63 L532.06,78.72 L532.84,77.79 L533.61,76.84 L534.37,75.89 L535.12,74.93 L535.86,73.96 L536.59,72.98 L537.32,72.00 L538.04,71.01 L538.76,70.02 L539.47,69.04 L540.19,68.05 L540.90,67.07 L541.61,66.09 L542.32,65.12 L543.03,64.14 L543.74,63.16 L544.45,62.19 L545.16,61.22 L545.87,60.24 L546.57,59.27 L547.28,58.29 L547.99,57.32 L548.69,56.34 L549.39,55.36 L550.10,54.38 L550.80,53.40 L551.51,52.42 L552.21,51.43 L552.91,50.44 L553.62,49.44 L554.32,48.44 L555.03,47.44 L555.74,46.45 L556.45,45.45 L557.17,44.46 L557.91,43.48 L558.65,42.52 L559.40,41.56 L560.17,40.62 L560.96,39.70 L561.77,38.80 L562.59,37.92 L563.43,37.07 L564.30,36.24 L565.20,35.44 L566.11,34.67 L567.04,33.93 L568.00,33.22 L568.98,32.53 L569.97,31.87 L570.98,31.24 L572.01,30.64 L573.06,30.06 L574.12,29.51 L575.20,28.99 L576.28,28.49 L577.39,28.02 L578.50,27.58 L579.63,27.16 L580.76,26.77 L581.91,26.40 L583.06,26.06 L584.22,25.75 L585.39,25.46 L586.56,25.20 L587.74,24.96 L588.93,24.75 L590.12,24.56 L591.31,24.39 L592.51,24.23 L593.72,24.10 L594.92,23.99 L596.13,23.89 L597.35,23.80 L598.56,23.74 L599.78,23.68 L601.00,23.63 L602.22,23.60 L603.44,23.57 L604.67,23.56 L605.89,23.55 L607.12,23.54 L608.34,23.55 L609.56,23.55 L610.79,23.56 L612.01,23.57 L613.23,23.57 L614.45,23.58 L615.67,23.59 L616.88,23.59 L618.09,23.58 L619.30,23.58 L620.51,23.56 L621.71,23.54 L622.91,23.50 L624.10,23.46 L625.29,23.41 L626.47,23.34 L627.65,23.26 L628.83,23.18 L630.00,23.09 L631.17,22.99 L632.34,22.90 L633.52,22.80 L634.69,22.70 L635.87,22.61 L637.05,22.52 L638.23,22.44 L639.42,22.37 L640.62,22.31 L641.82,22.27 L643.03,22.24 L644.25,22.22 L645.47,22.23 L646.71,22.26 L647.96,22.31 L649.22,22.38 L650.50,22.49 L651.79,22.62" fill="none" stroke="#ff0000" stroke-width="1.80" stroke-linejoin="round" stroke-linecap="round"/>
<path d="M378.28,153.13 L379.23,152.38 L380.17,151.63 L381.10,150.86 L382.02,150.08 L382.94,149.29 L383.84,148.50 L384.74,147.69 L385.63,146.88 L386.51,146.06 L387.39,145.23 L388.26,144.40 L389.13,143.56 L389.99,142.71 L390.85,141.87 L391.71,141.01 L392.56,140.16 L393.41,139.30 L394.26,138.44 L395.10,137.58 L395.95,136.72 L396.79,135.86 L397.64,134.99 L398.48,134.13 L399.32,133.27 L400.17,132.42 L401.02,131.56 L401.87,130.71 L402.72,129.86 L403.57,129.02 L404.43,128.18 L405.29,127.34 L406.16,126.51 L407.03,125.68 L407.90,124.86 L408.78,124.05 L409.66,123.24 L410.54,122.43 L411.43,121.63 L412.32,120.82 L413.19,120.00 L414.07,119.18 L414.93,118.35 L415.79,117.51 L416.64,116.66 L417.49,115.81 L418.35,114.96 L419.20,114.11 L420.05,113.27 L420.91,112.42 L421.77,111.58 L422.63,110.74 L423.50,109.91 L424.38,109.09 L425.26,108.27 L426.14,107.45 L427.03,106.64 L427.92,105.83 L428.82,105.02 L429.71,104.22 L430.61,103.42 L431.51,102.62 L432.42,101.82 L433.32,101.03 L434.22,100.23 L435.13,99.44 L436.04,98.65 L436.94,97.85 L437.85,97.06 L438.76,96.27 L439.66,95.47 L440.57,94.68 L441.47,93.88 L442.37,93.08 L443.27,92.29 L444.18,91.49 L445.08,90.69 L445.98,89.89 L446.88,89.09 L447.78,88.29 L448.68,87.49 L449.58,86.69 L450.49,85.88 L451.39,85.08 L452.29,84.28 L453.19,83.48 L454.09,82.68 L455.00,81.88 L455.92,81.11 L456.85,80.35 L457.81,79.62 L458.78,78.91 L459.76,78.24 L460.77,77.59 L461.79,76.97 L462.83,76.37 L463.88,75.80 L464.95,75.24 L466.03,74.71 L467.11,74.19 L468.21,73.70 L469.32,73.21 L470.43,72.75 L471.55,72.29 L472.68,71.85 L473.81,71.41 L474.95,70.99 L476.08,70.57 L477.22,70.17 L478.36,69.76 L479.50,69.37 L480.65,68.97 L481.79,68.58 L482.94,68.20 L484.08,67.82 L485.23,67.44 L486.37,67.06 L487.52,66.68 L488.67,66.31 L489.81,65.93 L490.96,65.55 L492.10,65.17 L493.25,64.79 L494.39,64.41 L495.53,64.02 L496.67,63.63 L497.81,63.24 L498.94,62.84 L500.08,62.43 L501.21,62.02 L502.34,61.60 L503.47,61.17 L504.59,60.73 L505.71,60.29 L506.83,59.83 L507.95,59.37 L509.06,58.90 L510.16,58.42 L511.27,57.93 L512.36,57.44 L513.46,56.93 L514.55,56.41 L515.63,55.88 L516.71,55.35 L517.78,54.80 L518.84,54.24 L519.91,53.67 L520.96,53.09 L522.01,52.50 L523.05,51.90 L524.08,51.29 L525.11,50.67 L526.13,50.03 L527.14,49.39 L528.14,48.73 L529.13,48.06 L530.12,47.37 L531.10,46.68 L532.07,45.97 L533.03,45.26 L534.00,44.54 L534.96,43.82 L535.91,43.10 L536.87,42.39 L537.84,41.68 L538.80,40.98 L539.78,40.30 L540.76,39.62 L541.74,38.96 L542.74,38.32 L543.74,37.67 L544.75,37.04 L545.76,36.41 L546.78,35.78 L547.81,35.15 L548.84,34.53 L549.88,33.92 L550.92,33.31 L551.98,32.72 L553.04,32.14 L554.11,31.58 L555.18,31.03 L556.27,30.51 L557.37,30.01 L558.47,29.54 L559.59,29.09 L560.71,28.67 L561.85,28.28 L562.99,27.91 L564.14,27.56 L565.30,27.24 L566.46,26.94 L567.63,26.65 L568.81,26.39 L569.99,26.14 L571.17,25.90 L572.36,25.68 L573.55,25.48 L574.74,25.28 L575.94,25.10 L577.13,24.92 L578.33,24.76 L579.52,24.60 L580.72,24.45 L581.92,24.31 L583.11,24.17 L584.31,24.04 L585.51,23.93 L586.71,23.81 L587.91,23.71 L589.11,23.61 L590.31,23.51 L591.52,23.43 L592.72,23.35 L593.92,23.27 L595.12,23.20 L596.33,23.14 L597.53,23.08 L598.74,23.02 L599.94,22.97 L601.15,22.93 L602.35,22.89 L603.56,22.85 L604.76,22.82 L605.97,22.79 L607.17,22.76 L608.38,22.74 L609.59,22.71 L610.80,22.70 L612.00,22.68 L613.21,22.67 L614.42,22.65 L615.62,22.64 L616.83,22.63 L618.04,22.63 L619.25,22.62 L620.45,22.62 L621.66,22.61 L622.87,22.61 L624.08,22.60 L625.29,22.60 L626.49,22.59 L627.70,22.59 L628.91,22.58 L630.11,22.57 L631.32,22.57 L632.53,22.56 L633.73,22.55 L634.94,22.53 L636.15,22.52 L637.35,22.50 L638.56,22.48 L639.76,22.46 L640.97,22.43 L642.17,22.41 L643.38,22.37 L644.58,22.34 L645.79,22.30 L646.99,22.26 L648.19,22.21 L649.39,22.16 L650.60,22.10 L651.80,22.04" fill="none" stroke="#008080" stroke-width="1.80" stroke-linejoin="round" stroke-linecap="round"/>
<path d="M378.30,159.05 L379.36,158.46 L380.42,157.88 L381.48,157.31 L382.54,156.73 L383.60,156.16 L384.67,155.59 L385.73,155.02 L386.80,154.46 L387.87,153.89 L388.94,153.33 L390.01,152.77 L391.08,152.21 L392.15,151.65 L393.22,151.09 L394.29,150.53 L395.36,149.98 L396.44,149.42 L397.51,148.86 L398.58,148.31 L399.65,147.75 L400.73,147.20 L401.80,146.64 L402.87,146.08 L403.94,145.53 L405.01,144.97 L406.08,144.41 L407.16,143.85 L408.22,143.29 L409.29,142.73 L410.36,142.16 L411.43,141.60 L412.49,141.03 L413.56,140.46 L414.62,139.89 L415.68,139.32 L416.75,138.74 L417.81,138.16 L418.86,137.58 L419.92,136.99 L420.97,136.41 L422.03,135.82 L423.08,135.22 L424.13,134.62 L425.17,134.02 L426.22,133.42 L427.26,132.81 L428.30,132.19 L429.34,131.57 L430.37,130.95 L431.41,130.33 L432.44,129.70 L433.47,129.08 L434.50,128.45 L435.53,127.82 L436.57,127.19 L437.60,126.57 L438.63,125.94 L439.66,125.32 L440.70,124.69 L441.73,124.07 L442.77,123.46 L443.81,122.85 L444.85,122.24 L445.90,121.64 L446.94,121.04 L447.99,120.45 L449.05,119.87 L450.10,119.29 L451.17,118.72 L452.23,118.15 L453.30,117.60 L454.37,117.05 L455.44,116.50 L456.52,115.96 L457.60,115.43 L458.69,114.90 L459.77,114.38 L460.86,113.86 L461.95,113.35 L463.05,112.84 L464.14,112.33 L465.24,111.83 L466.34,111.34 L467.44,110.85 L468.55,110.36 L469.66,109.87 L470.76,109.39 L471.87,108.91 L472.99,108.43 L474.10,107.96 L475.21,107.49 L476.33,107.02 L477.45,106.55 L478.56,106.09 L479.68,105.62 L480.80,105.16 L481.92,104.70 L483.04,104.24 L484.16,103.77 L485.28,103.31 L486.39,102.84 L487.50,102.36 L488.61,101.88 L489.71,101.39 L490.81,100.89 L491.90,100.38 L492.99,99.86 L494.06,99.33 L495.13,98.78 L496.19,98.22 L497.24,97.64 L498.28,97.05 L499.31,96.44 L500.32,95.81 L501.33,95.15 L502.32,94.48 L503.30,93.80 L504.27,93.09 L505.23,92.37 L506.18,91.64 L507.12,90.89 L508.05,90.12 L508.97,89.34 L509.88,88.55 L510.78,87.75 L511.68,86.93 L512.56,86.11 L513.44,85.27 L514.31,84.43 L515.17,83.57 L516.02,82.71 L516.87,81.84 L517.71,80.97 L518.55,80.08 L519.37,79.20 L520.20,78.31 L521.01,77.41 L521.83,76.51 L522.64,75.60 L523.44,74.70 L524.24,73.79 L525.04,72.87 L525.83,71.95 L526.62,71.04 L527.41,70.12 L528.20,69.19 L528.98,68.27 L529.77,67.35 L530.55,66.42 L531.33,65.50 L532.12,64.58 L532.90,63.65 L533.68,62.73 L534.47,61.81 L535.25,60.89 L536.04,59.97 L536.83,59.06 L537.62,58.15 L538.42,57.24 L539.21,56.33 L540.02,55.43 L540.82,54.53 L541.63,53.64 L542.45,52.75 L543.27,51.87 L544.09,50.99 L544.92,50.12 L545.76,49.26 L546.60,48.40 L547.45,47.55 L548.31,46.70 L549.17,45.87 L550.05,45.04 L550.93,44.22 L551.82,43.41 L552.72,42.61 L553.63,41.81 L554.55,41.03 L555.47,40.26 L556.41,39.50 L557.36,38.75 L558.31,38.01 L559.28,37.29 L560.25,36.58 L561.24,35.89 L562.23,35.21 L563.24,34.55 L564.25,33.90 L565.27,33.27 L566.30,32.66 L567.34,32.07 L568.40,31.50 L569.46,30.95 L570.52,30.42 L571.60,29.91 L572.69,29.42 L573.79,28.95 L574.90,28.51 L576.02,28.09 L577.14,27.70 L578.28,27.33 L579.42,26.99 L580.58,26.68 L581.74,26.39 L582.92,26.13 L584.10,25.90 L585.29,25.69 L586.49,25.52 L587.70,25.38 L588.92,25.26 L590.14,25.16 L591.37,25.07 L592.60,25.01 L593.84,24.96 L595.08,24.92 L596.31,24.88 L597.55,24.85 L598.79,24.83 L600.02,24.80 L601.25,24.76 L602.47,24.73 L603.69,24.69 L604.91,24.65 L606.13,24.60 L607.34,24.55 L608.55,24.50 L609.76,24.44 L610.96,24.38 L612.16,24.32 L613.36,24.26 L614.56,24.19 L615.76,24.12 L616.95,24.05 L618.15,23.98 L619.34,23.90 L620.53,23.83 L621.72,23.75 L622.91,23.67 L624.10,23.59 L625.29,23.51 L626.48,23.43 L627.67,23.35 L628.86,23.27 L630.06,23.19 L631.25,23.11 L632.44,23.02 L633.63,22.94 L634.83,22.86 L636.03,22.78 L637.22,22.70 L638.42,22.62 L639.62,22.54 L640.83,22.46 L642.04,22.38 L643.24,22.31 L644.46,22.24 L645.67,22.16 L646.89,22.09 L648.11,22.03 L649.33,21.96 L650.56,21.90 L651.79,21.84" fill="none" stroke="#0000ff" stroke-width="1.80" stroke-linejoin="round" stroke-linecap="round"/>
<path d="M378.26,150.87 L379.35,150.36 L380.44,149.84 L381.53,149.32 L382.62,148.79 L383.70,148.25 L384.78,147.71 L385.85,147.17 L386.93,146.62 L388.00,146.06 L389.07,145.50 L390.13,144.94 L391.20,144.37 L392.26,143.80 L393.32,143.23 L394.38,142.65 L395.43,142.07 L396.49,141.48 L397.54,140.89 L398.59,140.30 L399.64,139.71 L400.68,139.11 L401.73,138.51 L402.78,137.91 L403.82,137.31 L404.86,136.71 L405.90,136.10 L406.95,135.49 L407.99,134.88 L409.03,134.28 L410.07,133.66 L411.11,133.05 L412.14,132.44 L413.18,131.83 L414.22,131.22 L415.26,130.61 L416.30,129.99 L417.34,129.38 L418.38,128.77 L419.42,128.16 L420.46,127.55 L421.50,126.94 L422.54,126.34 L423.58,125.73 L424.63,125.13 L425.67,124.52 L426.72,123.92 L427.76,123.33 L428.81,122.73 L429.86,122.14 L430.91,121.55 L431.97,120.97 L433.03,120.39 L434.09,119.82 L435.15,119.26 L436.22,118.70 L437.29,118.15 L438.36,117.61 L439.44,117.07 L440.52,116.54 L441.60,116.02 L442.69,115.51 L443.78,114.99 L444.87,114.49 L445.96,113.98 L447.05,113.47 L448.14,112.97 L449.23,112.46 L450.32,111.96 L451.41,111.45 L452.49,110.93 L453.58,110.41 L454.66,109.89 L455.74,109.36 L456.82,108.84 L457.90,108.31 L458.98,107.79 L460.07,107.28 L461.15,106.77 L462.25,106.28 L463.34,105.80 L464.44,105.33 L465.55,104.88 L466.67,104.45 L467.80,104.03 L468.94,103.65 L470.08,103.28 L471.24,102.93 L472.40,102.60 L473.56,102.29 L474.73,101.98 L475.91,101.69 L477.08,101.40 L478.26,101.11 L479.43,100.83 L480.61,100.54 L481.78,100.25 L482.95,99.96 L484.11,99.66 L485.28,99.36 L486.44,99.06 L487.60,98.75 L488.76,98.44 L489.91,98.12 L491.07,97.79 L492.22,97.46 L493.37,97.12 L494.52,96.78 L495.67,96.43 L496.82,96.07 L497.97,95.71 L499.11,95.33 L500.25,94.95 L501.40,94.56 L502.54,94.17 L503.68,93.76 L504.82,93.35 L505.96,92.92 L507.10,92.48 L508.23,92.03 L509.36,91.57 L510.48,91.09 L511.58,90.59 L512.68,90.07 L513.77,89.54 L514.83,88.98 L515.89,88.39 L516.92,87.78 L517.93,87.15 L518.93,86.48 L519.89,85.79 L520.84,85.06 L521.76,84.30 L522.65,83.52 L523.53,82.71 L524.38,81.88 L525.22,81.02 L526.04,80.15 L526.85,79.25 L527.64,78.34 L528.42,77.42 L529.19,76.48 L529.94,75.53 L530.69,74.58 L531.44,73.62 L532.18,72.65 L532.91,71.68 L533.65,70.71 L534.38,69.74 L535.11,68.77 L535.84,67.81 L536.58,66.86 L537.32,65.91 L538.06,64.96 L538.80,64.01 L539.55,63.07 L540.29,62.13 L541.03,61.20 L541.78,60.26 L542.52,59.32 L543.26,58.38 L544.00,57.44 L544.74,56.50 L545.47,55.55 L546.20,54.60 L546.93,53.65 L547.66,52.69 L548.38,51.73 L549.09,50.76 L549.80,49.78 L550.51,48.79 L551.21,47.80 L551.91,46.80 L552.61,45.80 L553.30,44.79 L554.00,43.78 L554.70,42.78 L555.40,41.77 L556.11,40.77 L556.83,39.78 L557.57,38.80 L558.32,37.85 L559.11,36.93 L559.92,36.05 L560.77,35.21 L561.64,34.40 L562.54,33.63 L563.47,32.89 L564.42,32.19 L565.39,31.52 L566.39,30.88 L567.41,30.27 L568.45,29.70 L569.51,29.15 L570.58,28.64 L571.67,28.15 L572.78,27.68 L573.89,27.25 L575.02,26.84 L576.16,26.45 L577.31,26.09 L578.46,25.75 L579.63,25.44 L580.79,25.14 L581.96,24.87 L583.13,24.61 L584.31,24.37 L585.49,24.15 L586.67,23.95 L587.86,23.77 L589.04,23.60 L590.23,23.45 L591.42,23.32 L592.62,23.20 L593.82,23.09 L595.02,23.00 L596.22,22.92 L597.42,22.85 L598.62,22.79 L599.83,22.75 L601.04,22.72 L602.25,22.69 L603.46,22.68 L604.67,22.67 L605.88,22.68 L607.10,22.69 L608.31,22.70 L609.53,22.73 L610.75,22.76 L611.97,22.79 L613.18,22.83 L614.40,22.87 L615.62,22.92 L616.84,22.97 L618.06,23.02 L619.28,23.07 L620.50,23.13 L621.71,23.18 L622.93,23.23 L624.15,23.29 L625.37,23.34 L626.58,23.39 L627.80,23.44 L629.01,23.48 L630.23,23.52 L631.44,23.55 L632.65,23.59 L633.86,23.61 L635.07,23.63 L636.28,23.64 L637.48,23.64 L638.69,23.64 L639.89,23.63 L641.09,23.61 L642.29,23.57 L643.48,23.53 L644.68,23.48 L645.87,23.41 L647.05,23.34 L648.24,23.25 L649.42,23.14 L650.60,23.03 L651.78,22.89" fill="none" stroke="#ff00ff" stroke-width="1.80" stroke-linejoin="round" stroke-linecap="round"/>
<line x1="504.0" y1="146.45" x2="528.0" y2="146.45" stroke="#000" stroke-width="1.6"/>
<line x1="504.0" y1="160.70" x2="528.0" y2="160.70" stroke="#ff0000" stroke-width="1.6"/>
<line x1="504.0" y1="174.40" x2="528.0" y2="174.40" stroke="#0000ff" stroke-width="1.6"/>
<line x1="504.0" y1="194.60" x2="528.0" y2="194.60" stroke="#ff00ff" stroke-width="1.6"/>
<line x1="504.0" y1="208.20" x2="528.0" y2="208.20" stroke="#008080" stroke-width="1.6"/>
<text transform="translate(530.80,149.90) scale(1.000,1.030)" font-size="11.00" font-family="Liberation Serif" font-weight="bold">Composite photocatalyst</text>
<text transform="translate(530.80,164.00) scale(1.000,1.030)" font-size="11.00" font-family="Liberation Serif" font-weight="bold">GO</text>
<text transform="translate(530.80,177.90) scale(1.000,1.030)" font-size="11.00" font-family="Liberation Serif" font-weight="bold">titania nanosheet</text>
<text transform="translate(530.80,198.00) scale(1.000,1.030)" font-size="11.00" font-family="Liberation Serif" font-weight="bold">PDDA-300<tspan font-size="9.5" dy="-5">o</tspan><tspan dy="5">C</tspan></text>
<text transform="translate(530.80,211.80) scale(1.000,1.030)" font-size="11.00" font-family="Liberation Serif" font-weight="bold">Fe<tspan dy="3.8">3</tspan><tspan dy="-3.8">O</tspan><tspan dy="3.8">4</tspan></text>
<text transform="translate(612.70,58.10) scale(0.990,1.000)" font-size="22.00" font-family="Liberation Serif" font-weight="bold">(b)</text>
<text transform="translate(514.70,262.20) scale(1.000,1.050)" font-size="13.00" text-anchor="middle" font-family="Liberation Serif" font-weight="bold">E/V vs. SCE</text>
<text transform="translate(345.40,190.20) rotate(-90)" font-size="13.20" font-family="Liberation Serif" font-weight="bold">Current Density /mA cm<tspan font-size="8.5" dy="-5.3">-2</tspan></text>
</svg>
</body></html>
